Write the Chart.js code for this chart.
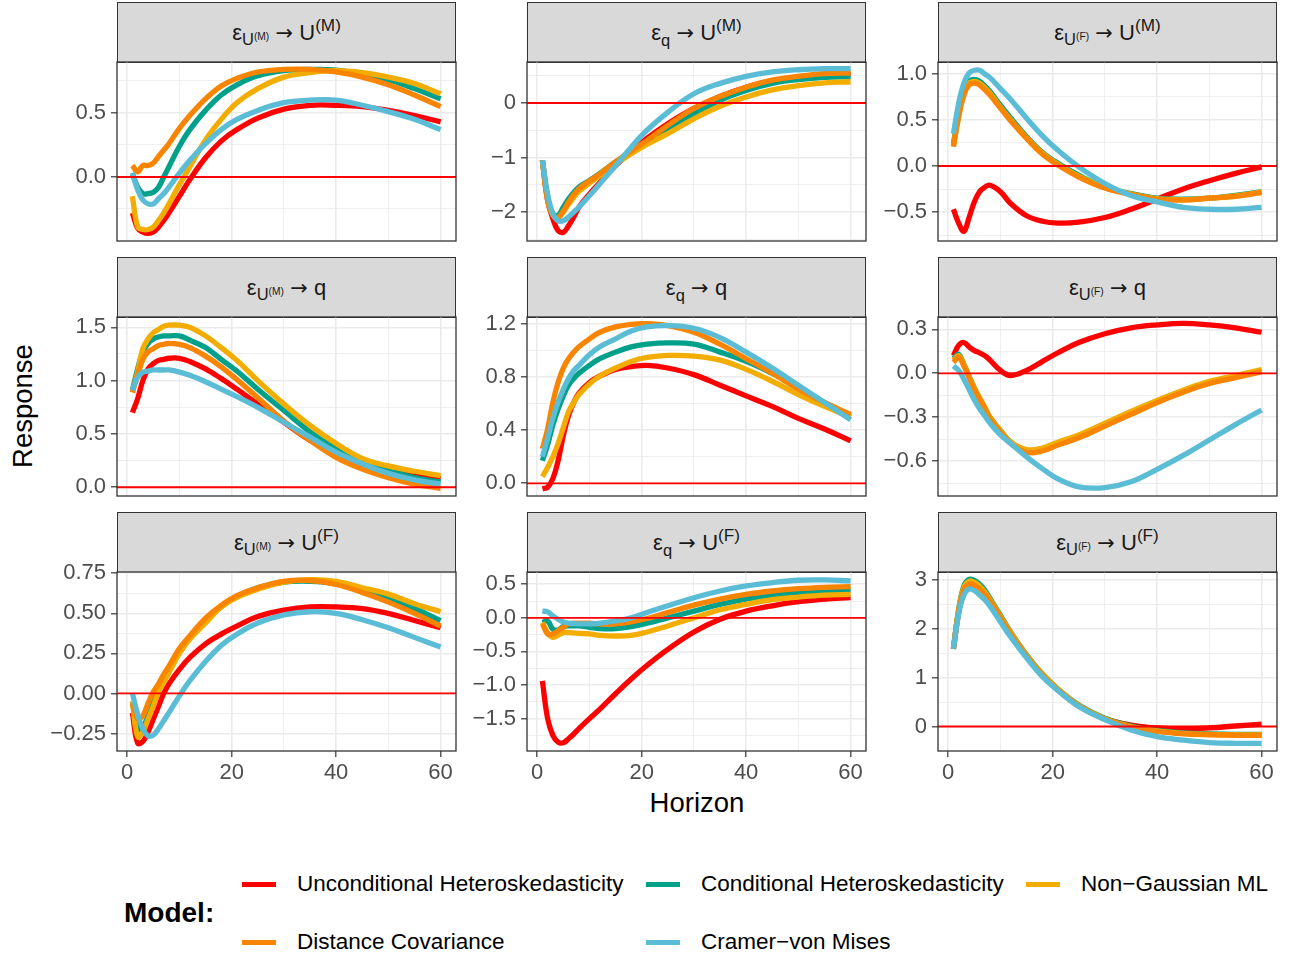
<!DOCTYPE html>
<html><head><meta charset="utf-8">
<script src="https://cdn.jsdelivr.net/npm/chart.js@4"></script>
<style>
html,body{margin:0;padding:0;background:#fff;}
body{width:1290px;height:962px;position:relative;overflow:hidden;font-family:'Liberation Sans',Arial,Helvetica,sans-serif;}
.strip{position:absolute;box-sizing:border-box;background:#D9D9D9;border:1.3px solid #333333;display:flex;align-items:center;justify-content:center;color:#1A1A1A;z-index:1;}
.strip .lbl{font-size:22px;line-height:1;white-space:nowrap;}
.strip sub{font-size:0.75em;vertical-align:-0.35em;line-height:0;}
.strip sub .ss{font-size:0.62em;vertical-align:0.5em;}
.strip sup{font-size:0.78em;vertical-align:0.55em;line-height:0;}
.strip .arr{font-family:'DejaVu Sans',sans-serif;font-size:0.95em;margin:0 0.3em;}
canvas{position:absolute;z-index:2;}
.title{position:absolute;font-size:27.5px;color:#000;white-space:nowrap;transform:translate(-50%,-50%);}
.leg{position:absolute;font-size:22.5px;color:#000;white-space:nowrap;line-height:30px;height:30px;}
.key{position:absolute;height:5px;width:34px;}
</style>
</head><body>
<script>
// ---------------- data ----------------
const horizons = [1,2,3,4,5,6,7,8,10,12,15,18,21,25,30,35,40,45,50,55,60];
const modelNames = ['Unconditional Heteroskedasticity','Conditional Heteroskedasticity','Non\u2212Gaussian ML','Distance Covariance','Cramer\u2212von Mises'];
const modelColors = ['#FF0000','#00A08A','#F2AD00','#F98400','#5BBCD6'];
const shockNames = ['U(M)','q','U(F)'];   // columns
const responseNames = ['U(M)','q','U(F)']; // rows
const xMajor = [0,20,40,60];
const xMinor = [10,30,50];
const xRange = [-1.95,62.95];

// row 1: response U(M)
const r1c1_UH  = [-0.28,-0.40,-0.43,-0.44,-0.43,-0.39,-0.34,-0.28,-0.15,-0.02,0.15,0.28,0.37,0.46,0.53,0.56,0.56,0.55,0.52,0.48,0.43];
const r1c1_CH  = [0.03,-0.08,-0.13,-0.13,-0.12,-0.08,0.00,0.08,0.24,0.37,0.52,0.64,0.72,0.79,0.83,0.84,0.835,0.80,0.76,0.69,0.61];
const r1c1_NG  = [-0.15,-0.39,-0.41,-0.41,-0.39,-0.34,-0.28,-0.21,-0.06,0.08,0.29,0.45,0.58,0.69,0.78,0.815,0.83,0.815,0.78,0.73,0.65];
const r1c1_DC  = [0.09,0.04,0.09,0.09,0.11,0.16,0.21,0.26,0.38,0.48,0.61,0.71,0.77,0.82,0.84,0.84,0.82,0.78,0.72,0.64,0.55];
const r1c1_CvM = [0.03,-0.10,-0.18,-0.21,-0.21,-0.17,-0.13,-0.08,0.03,0.13,0.26,0.37,0.45,0.52,0.58,0.60,0.60,0.56,0.51,0.45,0.37];
const r1c1_yMajor = [0,0.5], r1c1_yLabels = ['0.0','0.5'], r1c1_yMinor = [-0.25,0.25,0.75], r1c1_yRange = [-0.5,0.898];

const r1c2_UH  = [-1.05,-1.79,-2.12,-2.34,-2.37,-2.25,-2.09,-1.91,-1.67,-1.46,-1.15,-0.89,-0.65,-0.38,-0.10,0.12,0.29,0.40,0.47,0.51,0.53];
const r1c2_CH  = [-1.05,-1.73,-2.03,-2.06,-1.91,-1.76,-1.64,-1.54,-1.42,-1.29,-1.08,-0.90,-0.72,-0.47,-0.20,0.05,0.23,0.36,0.43,0.47,0.48];
const r1c2_NG  = [-1.05,-1.75,-2.05,-2.10,-2.00,-1.86,-1.73,-1.62,-1.47,-1.33,-1.12,-0.93,-0.76,-0.56,-0.29,-0.06,0.11,0.24,0.32,0.37,0.39];
const r1c2_DC  = [-1.05,-1.78,-2.06,-2.10,-1.98,-1.82,-1.68,-1.57,-1.43,-1.30,-1.08,-0.88,-0.69,-0.41,-0.10,0.12,0.29,0.42,0.49,0.54,0.55];
const r1c2_CvM = [-1.05,-1.67,-2.03,-2.16,-2.16,-2.09,-2.00,-1.91,-1.70,-1.48,-1.15,-0.81,-0.50,-0.17,0.17,0.36,0.49,0.57,0.61,0.63,0.63];
const r1c2_yMajor = [-2,-1,0], r1c2_yLabels = ['\u22122','\u22121','0'], r1c2_yMinor = [-2.5,-1.5,-0.5,0.5], r1c2_yRange = [-2.53,0.752];

const r1c3_UH  = [-0.47,-0.62,-0.71,-0.56,-0.39,-0.28,-0.23,-0.21,-0.28,-0.41,-0.54,-0.60,-0.62,-0.61,-0.56,-0.47,-0.36,-0.25,-0.16,-0.08,-0.01];
const r1c3_CH  = [0.24,0.57,0.81,0.92,0.94,0.92,0.87,0.81,0.66,0.52,0.32,0.15,0.03,-0.10,-0.23,-0.30,-0.35,-0.36,-0.35,-0.32,-0.28];
const r1c3_NG  = [0.22,0.55,0.79,0.90,0.92,0.90,0.85,0.79,0.64,0.50,0.31,0.14,0.02,-0.11,-0.235,-0.305,-0.355,-0.365,-0.35,-0.325,-0.285];
const r1c3_DC  = [0.21,0.53,0.77,0.88,0.90,0.88,0.83,0.77,0.63,0.49,0.30,0.13,0.01,-0.12,-0.24,-0.31,-0.36,-0.37,-0.35,-0.33,-0.29];
const r1c3_CvM = [0.35,0.68,0.90,1.01,1.04,1.04,1.00,0.96,0.84,0.72,0.52,0.33,0.17,-0.01,-0.19,-0.32,-0.39,-0.45,-0.47,-0.47,-0.45];
const r1c3_yMajor = [-0.5,0,0.5,1], r1c3_yLabels = ['\u22120.5','0.0','0.5','1.0'], r1c3_yMinor = [-0.75,-0.25,0.25,0.75], r1c3_yRange = [-0.815,1.13];

// row 2: response q
const r2c1_UH  = [0.70,0.83,1.00,1.11,1.16,1.19,1.20,1.21,1.21,1.18,1.11,1.02,0.92,0.78,0.61,0.44,0.31,0.22,0.15,0.11,0.08];
const r2c1_CH  = [0.91,1.11,1.27,1.35,1.39,1.41,1.42,1.42,1.42,1.38,1.31,1.20,1.09,0.92,0.72,0.52,0.36,0.23,0.16,0.09,0.05];
const r2c1_NG  = [0.89,1.08,1.30,1.39,1.45,1.48,1.51,1.52,1.52,1.50,1.42,1.31,1.19,1.00,0.78,0.58,0.41,0.27,0.20,0.15,0.11];
const r2c1_DC  = [0.89,1.05,1.20,1.27,1.30,1.33,1.34,1.35,1.34,1.31,1.23,1.13,1.01,0.84,0.62,0.44,0.28,0.17,0.09,0.03,-0.01];
const r2c1_CvM = [0.91,1.03,1.08,1.09,1.10,1.10,1.10,1.10,1.08,1.05,0.99,0.92,0.85,0.75,0.61,0.47,0.33,0.22,0.13,0.07,0.03];
const r2c1_yMajor = [0,0.5,1,1.5], r2c1_yLabels = ['0.0','0.5','1.0','1.5'], r2c1_yMinor = [0.25,0.75,1.25], r2c1_yRange = [-0.082,1.597];

const r2c2_UH  = [-0.04,-0.03,0.035,0.17,0.36,0.51,0.61,0.68,0.76,0.81,0.86,0.88,0.89,0.87,0.82,0.74,0.66,0.58,0.49,0.41,0.32];
const r2c2_CH  = [0.17,0.29,0.44,0.56,0.66,0.74,0.79,0.83,0.89,0.94,0.99,1.03,1.05,1.06,1.05,0.99,0.92,0.83,0.73,0.61,0.50];
const r2c2_NG  = [0.05,0.12,0.20,0.30,0.42,0.54,0.61,0.67,0.75,0.81,0.87,0.92,0.95,0.965,0.96,0.93,0.86,0.77,0.67,0.58,0.50];
const r2c2_DC  = [0.26,0.41,0.61,0.76,0.87,0.94,0.99,1.03,1.09,1.14,1.18,1.20,1.205,1.19,1.14,1.05,0.94,0.83,0.71,0.61,0.52];
const r2c2_CvM = [0.20,0.34,0.49,0.61,0.71,0.79,0.85,0.89,0.97,1.03,1.09,1.15,1.18,1.19,1.17,1.10,0.99,0.87,0.74,0.61,0.48];
const r2c2_yMajor = [0,0.4,0.8,1.2], r2c2_yLabels = ['0.0','0.4','0.8','1.2'], r2c2_yMinor = [0.2,0.6,1.0], r2c2_yRange = [-0.096,1.255];

const r2c3_UH  = [0.12,0.19,0.21,0.18,0.155,0.14,0.12,0.09,0.02,-0.015,0.02,0.08,0.14,0.21,0.27,0.31,0.33,0.34,0.33,0.31,0.28];
const r2c3_CH  = [0.10,0.13,0.06,-0.02,-0.10,-0.17,-0.235,-0.30,-0.39,-0.47,-0.525,-0.515,-0.475,-0.425,-0.345,-0.265,-0.19,-0.12,-0.06,-0.02,0.02];
const r2c3_NG  = [0.09,0.12,0.06,-0.02,-0.10,-0.165,-0.23,-0.30,-0.39,-0.47,-0.52,-0.51,-0.47,-0.42,-0.34,-0.26,-0.185,-0.115,-0.055,-0.015,0.025];
const r2c3_DC  = [0.075,0.11,0.05,-0.03,-0.11,-0.175,-0.24,-0.31,-0.40,-0.48,-0.54,-0.53,-0.49,-0.44,-0.36,-0.28,-0.20,-0.13,-0.07,-0.03,0.01];
const r2c3_CvM = [0.05,0.02,-0.04,-0.11,-0.18,-0.24,-0.29,-0.34,-0.42,-0.48,-0.57,-0.65,-0.72,-0.775,-0.78,-0.74,-0.655,-0.56,-0.455,-0.35,-0.25];
const r2c3_yMajor = [-0.6,-0.3,0,0.3], r2c3_yLabels = ['\u22120.6','\u22120.3','0.0','0.3'], r2c3_yMinor = [-0.75,-0.45,-0.15,0.15], r2c3_yRange = [-0.837,0.384];

// row 3: response U(F)
const r3c1_UH  = [-0.12,-0.31,-0.30,-0.24,-0.16,-0.08,0.00,0.06,0.15,0.225,0.31,0.37,0.42,0.48,0.52,0.54,0.54,0.53,0.50,0.455,0.41];
const r3c1_CH  = [-0.05,-0.22,-0.21,-0.14,-0.06,0.02,0.09,0.15,0.26,0.35,0.455,0.54,0.605,0.66,0.695,0.70,0.685,0.64,0.59,0.53,0.455];
const r3c1_NG  = [-0.05,-0.27,-0.24,-0.16,-0.08,0.01,0.07,0.13,0.25,0.34,0.44,0.54,0.60,0.65,0.695,0.71,0.70,0.66,0.62,0.56,0.51];
const r3c1_DC  = [-0.06,-0.16,-0.14,-0.06,0.01,0.06,0.12,0.17,0.28,0.36,0.47,0.55,0.61,0.66,0.70,0.705,0.68,0.63,0.57,0.50,0.42];
const r3c1_CvM = [0.00,-0.13,-0.22,-0.265,-0.26,-0.22,-0.17,-0.12,-0.015,0.08,0.20,0.30,0.37,0.44,0.49,0.51,0.50,0.46,0.41,0.35,0.29];
const r3c1_yMajor = [-0.25,0,0.25,0.5,0.75], r3c1_yLabels = ['\u22120.25','0.00','0.25','0.50','0.75'], r3c1_yMinor = [-0.125,0.125,0.375,0.625], r3c1_yRange = [-0.359,0.758];

const r3c2_UH  = [-0.94,-1.50,-1.75,-1.85,-1.86,-1.80,-1.73,-1.65,-1.50,-1.36,-1.13,-0.91,-0.71,-0.47,-0.21,-0.02,0.10,0.18,0.24,0.28,0.30];
const r3c2_CH  = [-0.07,-0.045,-0.17,-0.18,-0.13,-0.12,-0.12,-0.12,-0.14,-0.16,-0.16,-0.13,-0.08,0.00,0.10,0.20,0.28,0.34,0.375,0.40,0.415];
const r3c2_NG  = [-0.07,-0.22,-0.29,-0.26,-0.22,-0.22,-0.225,-0.23,-0.24,-0.26,-0.27,-0.26,-0.21,-0.12,0.00,0.12,0.20,0.27,0.31,0.34,0.35];
const r3c2_DC  = [-0.09,-0.24,-0.24,-0.19,-0.14,-0.09,-0.08,-0.08,-0.08,-0.09,-0.09,-0.06,-0.01,0.08,0.19,0.28,0.35,0.40,0.435,0.455,0.465];
const r3c2_CvM = [0.10,0.09,0.03,-0.02,-0.06,-0.08,-0.085,-0.09,-0.09,-0.08,-0.045,0.00,0.08,0.18,0.30,0.40,0.475,0.525,0.56,0.565,0.55];
const r3c2_yMajor = [-1.5,-1,-0.5,0,0.5], r3c2_yLabels = ['\u22121.5','\u22121.0','\u22120.5','0.0','0.5'], r3c2_yMinor = [-1.75,-1.25,-0.75,-0.25,0.25], r3c2_yRange = [-1.983,0.683];

const r3c3_UH  = [1.59,2.34,2.78,2.88,2.86,2.78,2.68,2.57,2.23,1.89,1.44,1.06,0.75,0.42,0.16,0.03,-0.03,-0.05,-0.03,0.01,0.05];
const r3c3_CH  = [1.60,2.40,2.88,3.02,3.00,2.92,2.80,2.63,2.28,1.93,1.47,1.08,0.77,0.44,0.17,0.01,-0.08,-0.13,-0.15,-0.16,-0.16];
const r3c3_NG  = [1.60,2.38,2.85,2.98,2.96,2.88,2.76,2.60,2.26,1.92,1.46,1.08,0.77,0.43,0.16,0.00,-0.09,-0.14,-0.16,-0.17,-0.17];
const r3c3_DC  = [1.59,2.35,2.80,2.92,2.90,2.82,2.71,2.57,2.23,1.89,1.44,1.06,0.75,0.42,0.15,-0.01,-0.10,-0.15,-0.17,-0.18,-0.18];
const r3c3_CvM = [1.59,2.30,2.70,2.82,2.79,2.70,2.60,2.47,2.15,1.83,1.41,1.03,0.74,0.41,0.14,-0.07,-0.21,-0.28,-0.33,-0.345,-0.345];
const r3c3_yMajor = [0,1,2,3], r3c3_yLabels = ['0','1','2','3'], r3c3_yMinor = [0.5,1.5,2.5], r3c3_yRange = [-0.503,3.17];

const panels = [
  [ {s:[r1c1_UH,r1c1_CH,r1c1_NG,r1c1_DC,r1c1_CvM], maj:r1c1_yMajor, lab:r1c1_yLabels, min:r1c1_yMinor, rng:r1c1_yRange},
    {s:[r1c2_UH,r1c2_CH,r1c2_NG,r1c2_DC,r1c2_CvM], maj:r1c2_yMajor, lab:r1c2_yLabels, min:r1c2_yMinor, rng:r1c2_yRange},
    {s:[r1c3_UH,r1c3_CH,r1c3_NG,r1c3_DC,r1c3_CvM], maj:r1c3_yMajor, lab:r1c3_yLabels, min:r1c3_yMinor, rng:r1c3_yRange} ],
  [ {s:[r2c1_UH,r2c1_CH,r2c1_NG,r2c1_DC,r2c1_CvM], maj:r2c1_yMajor, lab:r2c1_yLabels, min:r2c1_yMinor, rng:r2c1_yRange},
    {s:[r2c2_UH,r2c2_CH,r2c2_NG,r2c2_DC,r2c2_CvM], maj:r2c2_yMajor, lab:r2c2_yLabels, min:r2c2_yMinor, rng:r2c2_yRange},
    {s:[r2c3_UH,r2c3_CH,r2c3_NG,r2c3_DC,r2c3_CvM], maj:r2c3_yMajor, lab:r2c3_yLabels, min:r2c3_yMinor, rng:r2c3_yRange} ],
  [ {s:[r3c1_UH,r3c1_CH,r3c1_NG,r3c1_DC,r3c1_CvM], maj:r3c1_yMajor, lab:r3c1_yLabels, min:r3c1_yMinor, rng:r3c1_yRange},
    {s:[r3c2_UH,r3c2_CH,r3c2_NG,r3c2_DC,r3c2_CvM], maj:r3c2_yMajor, lab:r3c2_yLabels, min:r3c2_yMinor, rng:r3c2_yRange},
    {s:[r3c3_UH,r3c3_CH,r3c3_NG,r3c3_DC,r3c3_CvM], maj:r3c3_yMajor, lab:r3c3_yLabels, min:r3c3_yMinor, rng:r3c3_yRange} ]
];

// ---------------- layout ----------------
const FONT = "'Liberation Sans', Arial, Helvetica, sans-serif";
const colLeft = [117,527,938], plotW = 339;
const rowTop = [62,317,572], plotH = 179, stripH = 60;

function near(arr, v){ return arr.some(a => Math.abs(a - v) < 1e-9); }

function shockHTML(k){
  if (k === 'q') return '\u03B5<sub>q</sub>';
  const m = k.match(/U\((.)\)/);
  return '\u03B5<sub>U<span class="ss">(' + m[1] + ')</span></sub>';
}
function respHTML(k){
  if (k === 'q') return 'q';
  const m = k.match(/U\((.)\)/);
  return 'U<sup>(' + m[1] + ')</sup>';
}

const deco = {
  id: 'deco',
  afterDatasetsDraw(chart){
    const {ctx, chartArea:a, scales:{y}} = chart;
    const py = y.getPixelForValue(0);
    ctx.save();
    ctx.beginPath(); ctx.rect(a.left, a.top, a.right - a.left, a.bottom - a.top); ctx.clip();
    ctx.strokeStyle = '#FF0000'; ctx.lineWidth = 1.8;
    ctx.beginPath(); ctx.moveTo(a.left, py); ctx.lineTo(a.right, py); ctx.stroke();
    ctx.restore();
  },
  afterDraw(chart){
    const {ctx, chartArea:a} = chart;
    ctx.save(); ctx.strokeStyle = '#333333'; ctx.lineWidth = 1.3;
    ctx.strokeRect(a.left, a.top, a.right - a.left, a.bottom - a.top);
    ctx.restore();
  }
};

function makePanel(p, r, c){
  const bottom = (r === 2);
  const PADT = 20, PADR = 20, PADB = bottom ? 5 : 20, YW = 110, XH = bottom ? 40 : 0;
  const W = YW + plotW + PADR, H = PADT + plotH + XH + PADB;
  const strip = document.createElement('div');
  strip.className = 'strip';
  strip.style.left = colLeft[c] + 'px';
  strip.style.top = (rowTop[r] - stripH) + 'px';
  strip.style.width = plotW + 'px';
  strip.style.height = (stripH + 1) + 'px';
  strip.innerHTML = '<span class="lbl">' + shockHTML(shockNames[c]) + '<span class="arr">\u2192</span>' + respHTML(responseNames[r]) + '</span>';
  document.body.appendChild(strip);

  const cv = document.createElement('canvas');
  cv.width = W; cv.height = H;
  cv.style.left = (colLeft[c] - YW) + 'px';
  cv.style.top = (rowTop[r] - PADT) + 'px';
  cv.style.width = W + 'px'; cv.style.height = H + 'px';
  document.body.appendChild(cv);

  const yTicks = p.maj.concat(p.min).sort((a,b) => a - b);
  const xTicks = xMajor.concat(xMinor).sort((a,b) => a - b);
  const tickFont = {family: FONT, size: 22};

  new Chart(cv, {
    type: 'line',
    data: {
      datasets: p.s.map((vals, i) => ({
        label: modelNames[i],
        data: vals.map((v, k) => ({x: horizons[k], y: v})),
        borderColor: modelColors[i],
        backgroundColor: modelColors[i],
        borderWidth: 5.3,
        pointRadius: 0,
        tension: 0.4,
        fill: false,
        order: 5 - i,
        borderCapStyle: 'butt',
        borderJoinStyle: 'round'
      }))
    },
    options: {
      responsive: false, animation: false, devicePixelRatio: 1, events: [],
      layout: {padding: {left: 0, top: PADT, right: PADR, bottom: PADB}},
      plugins: {legend: {display: false}, tooltip: {enabled: false}},
      scales: {
        x: {
          type: 'linear', min: xRange[0], max: xRange[1],
          afterBuildTicks: ax => { ax.ticks = xTicks.map(v => ({value: v})); },
          afterFit: ax => { ax.height = XH; },
          ticks: {display: bottom, autoSkip: false, maxRotation: 0, minRotation: 0, padding: 3, color: '#4D4D4D', font: tickFont,
                  callback: v => near(xMajor, v) ? String(v) : ''},
          grid: {color: '#EBEBEB', lineWidth: ctx => (ctx.tick && near(xMajor, ctx.tick.value)) ? 1.6 : 0.8,
                 drawTicks: bottom, tickLength: 6, tickWidth: 1.2,
                 tickColor: ctx => (ctx.tick && near(xMajor, ctx.tick.value)) ? '#333333' : 'rgba(0,0,0,0)'},
          border: {display: false}
        },
        y: {
          type: 'linear', min: p.rng[0], max: p.rng[1],
          afterBuildTicks: ax => { ax.ticks = yTicks.map(v => ({value: v})); },
          afterFit: ax => { ax.width = YW; },
          ticks: {autoSkip: false, padding: 5, color: '#4D4D4D', font: tickFont,
                  callback: v => { const j = p.maj.findIndex(a => Math.abs(a - v) < 1e-9); return j >= 0 ? p.lab[j] : ''; }},
          grid: {color: '#EBEBEB', lineWidth: ctx => (ctx.tick && near(p.maj, ctx.tick.value)) ? 1.6 : 0.8,
                 drawTicks: true, tickLength: 6, tickWidth: 1.2,
                 tickColor: ctx => (ctx.tick && near(p.maj, ctx.tick.value)) ? '#333333' : 'rgba(0,0,0,0)'},
          border: {display: false}
        }
      }
    },
    plugins: [deco]
  });
}

for (let r = 0; r < 3; r++) for (let c = 0; c < 3; c++) makePanel(panels[r][c], r, c);

// axis titles
function addTitle(text, x, y, rot){
  const d = document.createElement('div');
  d.className = 'title'; d.textContent = text;
  d.style.left = x + 'px'; d.style.top = y + 'px';
  if (rot) d.style.transform = 'translate(-50%,-50%) rotate(-90deg)';
  document.body.appendChild(d);
}
addTitle('Response', 23, 406, true);
addTitle('Horizon', 697, 803, false);

// legend
const legTitle = document.createElement('div');
legTitle.className = 'leg';
legTitle.style.left = '124px'; legTitle.style.top = '898px';
legTitle.style.fontSize = '28px'; legTitle.style.fontWeight = 'bold';
legTitle.textContent = 'Model:';
document.body.appendChild(legTitle);
const legPos = [[242,884],[646,884],[1026,884],[242,942],[646,942]];
modelNames.forEach((name, i) => {
  const [kx, ky] = legPos[i];
  const k = document.createElement('div');
  k.className = 'key'; k.style.background = modelColors[i];
  k.style.left = kx + 'px'; k.style.top = (ky - 2.5) + 'px';
  document.body.appendChild(k);
  const t = document.createElement('div');
  t.className = 'leg'; t.textContent = name;
  t.style.left = (kx + 55) + 'px'; t.style.top = (ky - 15) + 'px';
  document.body.appendChild(t);
});
</script>
</body></html>
